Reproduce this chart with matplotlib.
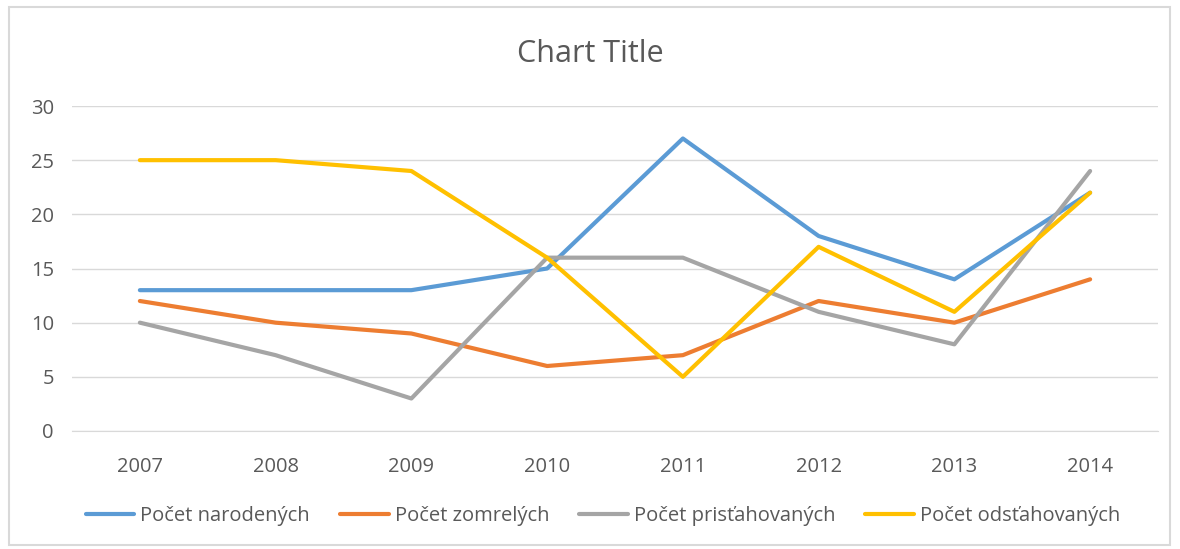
import matplotlib.pyplot as plt
from matplotlib.patches import Rectangle

# Data
years = ['2007', '2008', '2009', '2010', '2011', '2012', '2013', '2014']
narodenych = [13, 13, 13, 15, 27, 18, 14, 22]
zomrelych = [12, 10, 9, 6, 7, 12, 10, 14]
pristahovanych = [10, 7, 3, 16, 16, 11, 8, 24]
odstahovanych = [25, 25, 24, 16, 5, 17, 11, 22]

series = [
    ('Počet narodených', narodenych, '#5B9BD5'),
    ('Počet zomrelých', zomrelych, '#ED7D31'),
    ('Počet prisťahovaných', pristahovanych, '#A5A5A5'),
    ('Počet odsťahovaných', odstahovanych, '#FFC000'),
]

plt.rcParams['font.family'] = ['Open Sans', 'DejaVu Sans']
text_color = '#595959'
grid_color = '#D9D9D9'

fig = plt.figure(figsize=(11.8, 5.49), dpi=100)
ax = fig.add_axes([72 / 1180, 1 - 431 / 549, (1158 - 72) / 1180, (431 - 106) / 549])

x = list(range(len(years)))
for label, vals, color in series:
    ax.plot(x, vals, color=color, linewidth=3, label=label,
            solid_capstyle='round', solid_joinstyle='round', zorder=3)

ax.set_xlim(-0.5, len(years) - 0.5)
ax.set_ylim(0, 30)
ax.set_yticks(range(0, 31, 5))
ax.set_xticks(x)
ax.set_xticklabels(years)
ax.grid(axis='y', color=grid_color, linewidth=1)
ax.set_axisbelow(True)
for side in ['top', 'right', 'left']:
    ax.spines[side].set_visible(False)
ax.spines['bottom'].set_color(grid_color)
ax.tick_params(axis='both', length=0, labelsize=14.5, colors=text_color)
ax.tick_params(axis='x', pad=19)
ax.tick_params(axis='y', pad=13)

fig.text(0.5, 1 - 54 / 549, 'Chart Title', ha='center', va='center',
         fontsize=22, color=text_color)

fig.legend(loc='center', bbox_to_anchor=(0.511, 1 - 516 / 549), ncol=4,
           frameon=False, fontsize=14.5, labelcolor=text_color,
           handlelength=2.4, handletextpad=0.3, columnspacing=1.5)

# light outer frame of the chart
fig.patches.append(Rectangle((9 / 1180, 1 - 545 / 549), 1161 / 1180, 538 / 549,
                             transform=fig.transFigure, fill=False,
                             edgecolor='#D9D9D9', linewidth=1.5))

fig.savefig('out.png', dpi=100)
